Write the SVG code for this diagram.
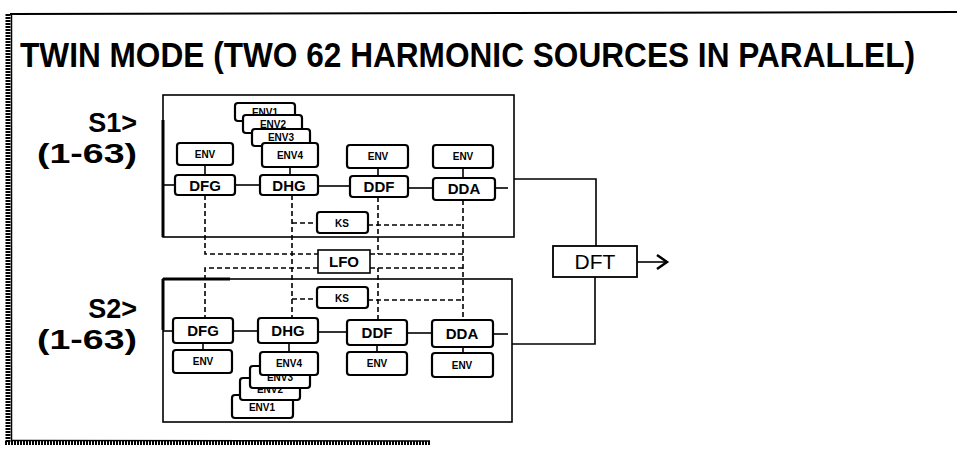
<svg xmlns="http://www.w3.org/2000/svg" width="957" height="449" viewBox="0 0 957 449">
<style>
.frame{fill:none;stroke:#000}
.box{fill:#fff;stroke:#000;stroke-width:2.2}
.mod{font-family:"Liberation Sans",Arial,sans-serif;font-size:15px;font-weight:bold;text-anchor:middle;fill:#000}
.env{font-family:"Liberation Sans",Arial,sans-serif;font-size:10px;font-weight:bold;text-anchor:middle;fill:#000}
.ln{fill:none;stroke:#000;stroke-width:1.6}
.dash{fill:none;stroke:#000;stroke-width:1.6;stroke-dasharray:5 3}
.big{font-family:"Liberation Sans",Arial,sans-serif;font-weight:bold;fill:#000}
</style>
<rect x="0" y="0" width="957" height="449" fill="#fff"/>
<g id="frame">
<line x1="10" y1="14" x2="957" y2="12" class="frame" stroke-width="2"/>
<line x1="8" y1="14" x2="8" y2="443" class="frame" stroke-width="5" stroke-dasharray="2 1"/>
<line x1="11.5" y1="14" x2="11.5" y2="441" class="frame" stroke-width="1.5"/>
<line x1="5" y1="443" x2="430" y2="443" class="frame" stroke-width="4" stroke-dasharray="2 1"/>
<line x1="11" y1="440.5" x2="430" y2="441" class="frame" stroke-width="1.5"/>
</g>
<text id="title" transform="translate(20,67) scale(1,1.32)" x="0" y="0" class="big" font-size="26" textLength="895" lengthAdjust="spacingAndGlyphs">TWIN MODE (TWO 62 HARMONIC SOURCES IN PARALLEL)</text>
<g id="s1-label">
<text x="137" y="132" class="big" font-size="27" text-anchor="end">S1&gt;</text>
<text x="37" y="163" class="big" font-size="27" textLength="100" lengthAdjust="spacingAndGlyphs">(1-63)</text>
</g>
<g id="s2-label">
<text x="137" y="318" class="big" font-size="27" text-anchor="end">S2&gt;</text>
<text x="37" y="349" class="big" font-size="27" textLength="100" lengthAdjust="spacingAndGlyphs">(1-63)</text>
</g>
<g id="source1">
<rect x="163" y="95" width="351" height="142" fill="none" stroke="#000" stroke-width="1.6"/>
<line x1="163" y1="120" x2="163" y2="237" stroke="#000" stroke-width="3"/>
</g>
<g id="source2">
<rect x="163" y="279" width="349" height="143" fill="none" stroke="#000" stroke-width="1.6"/>
<line x1="163" y1="279" x2="163" y2="330" stroke="#000" stroke-width="3"/>
<line x1="163" y1="279" x2="230" y2="279" stroke="#000" stroke-width="3"/>
</g>
<g id="connectors">
<polyline class="ln" points="163,185 175,185"/>
<polyline class="ln" points="235,185 260,185"/>
<polyline class="ln" points="318,186 350,186"/>
<polyline class="ln" points="408,188 433,188"/>
<polyline class="ln" points="495,188 508,188"/>
<polyline class="ln" points="205,165 205,175"/>
<polyline class="ln" points="290,167 290,175"/>
<polyline class="ln" points="378,168 378,175"/>
<polyline class="ln" points="463,168 463,178"/>
<polyline class="ln" points="514,179 596,179 596,246"/>
<polyline class="ln" points="163,331 173,331"/>
<polyline class="ln" points="233,331 258,331"/>
<polyline class="ln" points="318,332 347,332"/>
<polyline class="ln" points="407,333 432,333"/>
<polyline class="ln" points="493,334 508,334"/>
<polyline class="ln" points="203,343 203,350"/>
<polyline class="ln" points="289,343 289,352"/>
<polyline class="ln" points="377,345 377,352"/>
<polyline class="ln" points="463,347 463,353"/>
<polyline class="ln" points="512,344 595,344 595,277"/>
<polyline class="ln" points="637,262 666,262" stroke-width="2"/>
<polyline points="657,255 667,262 657,269" fill="none" stroke="#000" stroke-width="2.5"/>
<polyline class="dash" points="205,195 205,254 318,254"/>
<polyline class="dash" points="318,268 205,268 205,318"/>
<polyline class="dash" points="292,195 292,318"/>
<polyline class="dash" points="378,197 378,254"/>
<polyline class="dash" points="378,320 378,268"/>
<polyline class="dash" points="463,200 463,320"/>
<polyline class="dash" points="370,254 463,254"/>
<polyline class="dash" points="370,268 463,268"/>
<polyline class="dash" points="292,223 317,223"/>
<polyline class="dash" points="368,225 463,225"/>
<polyline class="dash" points="292,299 317,299"/>
<polyline class="dash" points="368,300 463,300"/>
</g>
<g id="s1-dfg-env"><rect class="box" x="177" y="143" width="56" height="22" rx="3"/><text class="env" x="205" y="158">ENV</text></g>
<g id="s1-dfg"><rect class="box" x="175" y="175" width="60" height="20" rx="3"/><text class="mod" x="205" y="191">DFG</text></g>
<g id="s1-env1"><rect class="box" x="235" y="103" width="60" height="18" rx="3"/><text class="env" x="265" y="116">ENV1</text></g>
<g id="s1-env2"><rect class="box" x="243" y="115" width="59" height="18" rx="3"/><text class="env" x="273" y="128">ENV2</text></g>
<g id="s1-env3"><rect class="box" x="252" y="129" width="58" height="17" rx="3"/><text class="env" x="281" y="141">ENV3</text></g>
<g id="s1-env4"><rect class="box" x="262" y="143" width="56" height="24" rx="3"/><text class="env" x="290" y="159">ENV4</text></g>
<g id="s1-dhg"><rect class="box" x="260" y="175" width="58" height="20" rx="3"/><text class="mod" x="289" y="191">DHG</text></g>
<g id="s1-ddf-env"><rect class="box" x="347" y="145" width="61" height="23" rx="3"/><text class="env" x="378" y="160">ENV</text></g>
<g id="s1-ddf"><rect class="box" x="350" y="176" width="58" height="21" rx="3"/><text class="mod" x="379" y="192">DDF</text></g>
<g id="s1-dda-env"><rect class="box" x="433" y="145" width="60" height="23" rx="3"/><text class="env" x="463" y="160">ENV</text></g>
<g id="s1-dda"><rect class="box" x="433" y="178" width="62" height="22" rx="3"/><text class="mod" x="464" y="194">DDA</text></g>
<g id="s1-ks"><rect class="box" x="317" y="212" width="51" height="21" rx="3"/><text class="env" x="342" y="227" font-size="12">KS</text></g>
<g id="lfo"><rect x="318" y="250" width="52" height="23" fill="#fff" stroke="#000" stroke-width="1.6"/><text class="mod" x="344" y="267" font-weight="normal" font-size="16">LFO</text></g>
<g id="dft"><rect x="553" y="246" width="84" height="31" fill="#fff" stroke="#000" stroke-width="1.8"/><text x="595" y="269" font-family="'Liberation Sans',Arial,sans-serif" font-size="21" text-anchor="middle">DFT</text></g>
<g id="s2-ks"><rect class="box" x="317" y="287" width="51" height="21" rx="3"/><text class="env" x="342" y="302" font-size="12">KS</text></g>
<g id="s2-dfg"><rect class="box" x="173" y="318" width="60" height="25" rx="3"/><text class="mod" x="203" y="336">DFG</text></g>
<g id="s2-dfg-env"><rect class="box" x="173" y="350" width="59" height="23" rx="3"/><text class="env" x="203" y="365">ENV</text></g>
<g id="s2-env1"><rect class="box" x="232" y="395" width="61" height="23" rx="3"/><text class="env" x="262" y="411">ENV1</text></g>
<g id="s2-env2"><rect class="box" x="240" y="378" width="60" height="22" rx="3"/><text class="env" x="270" y="393">ENV2</text></g>
<g id="s2-env3"><rect class="box" x="250" y="366" width="60" height="22" rx="3"/><text class="env" x="280" y="381">ENV3</text></g>
<g id="s2-env4"><rect class="box" x="260" y="352" width="58" height="23" rx="3"/><text class="env" x="289" y="367">ENV4</text></g>
<g id="s2-dhg"><rect class="box" x="258" y="318" width="60" height="25" rx="3"/><text class="mod" x="288" y="336">DHG</text></g>
<g id="s2-ddf"><rect class="box" x="347" y="320" width="60" height="25" rx="3"/><text class="mod" x="377" y="338">DDF</text></g>
<g id="s2-ddf-env"><rect class="box" x="347" y="352" width="60" height="23" rx="3"/><text class="env" x="377" y="367">ENV</text></g>
<g id="s2-dda"><rect class="box" x="432" y="320" width="61" height="27" rx="3"/><text class="mod" x="462" y="339">DDA</text></g>
<g id="s2-dda-env"><rect class="box" x="432" y="353" width="61" height="24" rx="3"/><text class="env" x="462" y="369">ENV</text></g>
</svg>
